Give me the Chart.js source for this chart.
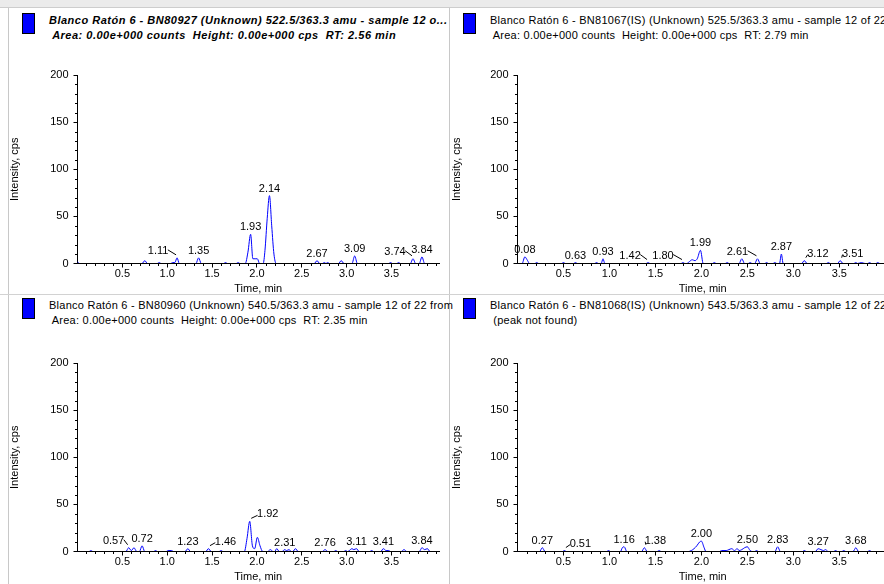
<!DOCTYPE html>
<html>
<head>
<meta charset="utf-8">
<script src="https://cdn.jsdelivr.net/npm/chart.js@4.4.1/dist/chart.umd.min.js"></script>
<style>
  html, body { margin: 0; padding: 0; background: #fff; }
  body { width: 884px; height: 584px; overflow: hidden; position: relative;
         font-family: "Liberation Sans", Arial, sans-serif; }
  .band { position: absolute; left: 0; top: 0; width: 884px; height: 7px;
          background: #ebebeb; border-bottom: 1px solid #cdcdcd; }
  .vline { position: absolute; width: 1px; background: #c8c8c8; }
  .hline { position: absolute; height: 1px; background: #d2d2d2; }
  .icon { position: absolute; width: 11px; height: 19px; background: #0000ff; border: 1px solid #000; }
  .hdr { position: absolute; font-size: 11px; line-height: 15px; white-space: pre; color: #000;
         letter-spacing: 0.25px; }
  .hdr.bi { font-weight: bold; font-style: italic; letter-spacing: 0.5px; }
  canvas { position: absolute; }
</style>
</head>
<body>
<div class="band"></div>
<div class="vline" style="left:8px;top:8px;height:576px"></div>
<div class="vline" style="left:449px;top:8px;height:576px"></div>
<div class="hline" style="left:0;top:294px;width:884px"></div>

<canvas id="c1" width="440" height="240" style="left:8px;top:56px"></canvas>
<canvas id="c2" width="447" height="240" style="left:450px;top:56px"></canvas>
<canvas id="c3" width="440" height="240" style="left:8px;top:344px"></canvas>
<canvas id="c4" width="447" height="240" style="left:450px;top:344px"></canvas>

<script>
// ---- axis ticks ----
const timeTicks = [0.5, 1.0, 1.5, 2.0, 2.5, 3.0, 3.5];
const timeTickLabels = ['0.5', '1.0', '1.5', '2.0', '2.5', '3.0', '3.5'];
const cpsTicks = [0, 50, 100, 150, 200];
const cpsTickLabels = ['0', '50', '100', '150', '200'];
const timeRange = [0, 4.03];
const cpsRange = [0, 200];

// ---- BN80927, 522.5/363.3 amu ----
const bn80927Time = [0.00, 0.02, 0.72, 0.75, 0.78, 0.89, 0.91, 0.93, 1.04, 1.06, 1.085, 1.11, 1.135,
  1.32, 1.35, 1.38, 1.63, 1.65, 1.67, 1.77, 1.79, 1.81, 1.87, 1.90, 1.93, 1.955, 1.98, 2.005, 2.03,
  2.07, 2.09, 2.115, 2.14, 2.165, 2.19, 2.215, 2.64, 2.67, 2.70, 2.73, 2.75, 2.77, 2.79, 2.81,
  2.91, 2.94, 2.97, 3.06, 3.09, 3.12, 3.47, 3.49, 3.51, 3.56, 3.58, 3.60, 3.71, 3.74, 3.77,
  3.81, 3.84, 3.87, 4.03];
const bn80927Cps = [2, 0, 0, 3, 0, 0, 1, 0, 0, 1, 1, 6, 0,
  0, 6, 0, 0, 1, 0, 0, 1, 0, 0, 12, 31, 5, 5, 5, 0,
  0, 14, 48, 72, 40, 10, 0, 0, 3, 0, 0, 1, 0, 1, 0,
  0, 3, 0, 0, 8, 0, 0, 1, 0, 0, 1, 0, 0, 5, 0,
  0, 7, 0, 0];
const bn80927Peaks = [1.11, 1.35, 1.93, 2.14, 2.67, 3.09, 3.74, 3.84];

// ---- BN81067(IS), 525.5/363.3 amu ----
const bn81067Time = [0.00, 0.05, 0.08, 0.11, 0.13, 0.19, 0.21, 0.23, 0.48, 0.50, 0.52, 0.61, 0.63, 0.65,
  0.84, 0.86, 0.88, 0.91, 0.93, 0.95, 1.40, 1.42, 1.44, 1.78, 1.80, 1.82,
  1.84, 1.87, 1.90, 1.93, 1.955, 1.99, 2.02, 2.12, 2.14, 2.16, 2.26, 2.28, 2.30,
  2.41, 2.44, 2.47, 2.51, 2.53, 2.55, 2.58, 2.61, 2.64, 2.69, 2.71, 2.73, 2.78, 2.80, 2.82,
  2.85, 2.87, 2.89, 3.09, 3.12, 3.15, 3.36, 3.38, 3.40, 3.48, 3.51, 3.54,
  3.66, 3.68, 3.70, 3.74, 3.78, 3.81, 3.83, 3.85, 3.90, 3.92, 3.94, 4.03];
const bn81067Cps = [0, 0, 7, 3, 0, 0, 1, 0, 0, 1, 0, 0, 1, 0,
  0, 1, 0, 0, 5, 0, 0, 1, 0, 0, 1, 0,
  0, 2, 4, 3, 5, 14, 0, 0, 1, 0, 0, 1, 0,
  0, 5, 0, 0, 1, 0, 0, 5, 0, 0, 1, 0, 0, 1, 0,
  0, 10, 0, 0, 3, 0, 0, 1, 0, 0, 3, 0,
  0, 1, 0, 1, 0, 0, 1, 0, 0, 1, 0, 0];
const bn81067Peaks = [0.08, 0.63, 0.93, 1.42, 1.80, 1.99, 2.61, 2.87, 3.12, 3.51];

// ---- BN80960, 540.5/363.3 amu ----
const bn80960Time = [0.00, 0.13, 0.15, 0.17, 0.54, 0.57, 0.60, 0.63, 0.66, 0.69, 0.72, 0.75,
  0.85, 0.87, 0.89, 0.99, 1.01, 1.05, 1.07, 1.20, 1.23, 1.26, 1.43, 1.46, 1.49, 1.58, 1.60, 1.62,
  1.86, 1.89, 1.92, 1.95, 1.975, 2.005, 2.035, 2.065, 2.12, 2.15, 2.18, 2.20, 2.22, 2.25,
  2.28, 2.31, 2.33, 2.36, 2.38, 2.40, 2.43, 2.46, 2.73, 2.76, 2.79, 2.86, 2.88, 2.90,
  2.97, 2.99, 3.01, 3.03, 3.06, 3.08, 3.11, 3.14, 3.26, 3.28, 3.30, 3.38, 3.41, 3.44, 3.47, 3.49,
  3.61, 3.64, 3.67, 3.81, 3.84, 3.87, 3.90, 3.93, 4.03];
const bn80960Cps = [0, 0, 1, 0, 0, 4, 1, 4, 0, 0, 6, 0,
  0, 1, 0, 0, 1, 1, 0, 0, 3, 0, 0, 3, 0, 0, 1, 0,
  0, 14, 32, 6, 3, 15, 6, 0, 0, 2, 0, 0, 3, 0,
  0, 2, 1, 2, 0, 0, 3, 0, 0, 2, 0, 0, 1, 0,
  0, 1, 0, 1, 3, 2, 3, 0, 0, 1, 0, 0, 3, 1, 1, 0,
  0, 2, 0, 0, 4, 2, 3, 0, 0];
const bn80960Peaks = [0.57, 0.72, 1.23, 1.46, 1.92, 2.31, 2.76, 3.11, 3.41, 3.84];

// ---- BN81068(IS), 543.5/363.3 amu ----
const bn81068Time = [0.00, 0.24, 0.27, 0.30, 0.49, 0.51, 0.53, 0.97, 0.99, 1.01, 1.12, 1.14, 1.16, 1.19,
  1.35, 1.38, 1.41, 1.52, 1.54, 1.56, 1.86, 1.89, 1.92, 1.95, 1.98, 2.00, 2.03, 2.05,
  2.20, 2.22, 2.27, 2.30, 2.33, 2.36, 2.39, 2.41, 2.44, 2.47, 2.50, 2.53, 2.55, 2.58, 2.60, 2.62,
  2.80, 2.83, 2.86, 3.10, 3.12, 3.14, 3.24, 3.27, 3.30, 3.33, 3.35, 3.38,
  3.44, 3.46, 3.48, 3.53, 3.55, 3.57, 3.65, 3.68, 3.71, 3.81, 3.83, 3.85, 4.03];
const bn81068Cps = [0, 0, 4, 0, 0, 1, 0, 0, 1, 0, 0, 4, 5, 0,
  0, 4, 0, 0, 1, 0, 0, 1, 3, 6, 10, 11, 4, 0,
  0, 1, 1, 2, 3, 1, 3, 1, 2, 4, 5, 1, 0, 0, 1, 0,
  0, 5, 0, 0, 1, 0, 0, 3, 2, 1, 2, 0,
  0, 1, 0, 0, 1, 0, 0, 4, 0, 0, 1, 0, 0];
const bn81068Peaks = [0.27, 0.51, 1.16, 1.38, 2.00, 2.50, 2.83, 3.27, 3.68];

// ---- pane headers ----
const headers = [
  { left: 22, top: 13, cls: 'bi', lines: ['Blanco Ratón 6 - BN80927 (Unknown) 522.5/363.3 amu - sample 12 o...',
    ' Area: 0.00e+000 counts  Height: 0.00e+000 cps  RT: 2.56 min'] },
  { left: 463, top: 13, cls: '', lines: ['Blanco Ratón 6 - BN81067(IS) (Unknown) 525.5/363.3 amu - sample 12 of 22',
    ' Area: 0.00e+000 counts  Height: 0.00e+000 cps  RT: 2.79 min'] },
  { left: 22, top: 298, cls: '', lines: ['Blanco Ratón 6 - BN80960 (Unknown) 540.5/363.3 amu - sample 12 of 22 from',
    ' Area: 0.00e+000 counts  Height: 0.00e+000 cps  RT: 2.35 min'] },
  { left: 463, top: 298, cls: '', lines: ['Blanco Ratón 6 - BN81068(IS) (Unknown) 543.5/363.3 amu - sample 12 of 22',
    ' (peak not found)'] }
];
headers.forEach(h => {
  const icon = document.createElement('div');
  icon.className = 'icon';
  icon.style.left = h.left + 'px';
  icon.style.top = h.top + 'px';
  document.body.appendChild(icon);
  const txt = document.createElement('div');
  txt.className = 'hdr ' + h.cls;
  txt.style.left = (h.left + 27) + 'px';
  txt.style.top = h.top + 'px';
  txt.textContent = h.lines.join('\n');
  document.body.appendChild(txt);
});

// ---- drawing helpers ----
const FONT_FAMILY = '"Liberation Sans", Arial, sans-serif';
const tickFont = { family: FONT_FAMILY, size: 11 };

// redraws the time baseline over the trace and adds the short minor ticks
const axisOverlay = {
  id: 'axisOverlay',
  afterDatasetsDraw(chart) {
    const { ctx, chartArea: a, scales: { x, y } } = chart;
    ctx.save();
    ctx.strokeStyle = '#000';
    ctx.lineWidth = 1;
    ctx.beginPath();
    const by = Math.round(a.bottom - 0.5) + 0.5;
    const lx = Math.round(a.left - 0.5) + 0.5;
    ctx.moveTo(lx, by);
    ctx.lineTo(a.right, by);
    for (let k = 1; k < 20; k++) {
      if (k % 5 === 0) continue;
      const py = Math.round(y.getPixelForValue(k * 10)) + 0.5;
      ctx.moveTo(lx - 2.5, py);
      ctx.lineTo(lx, py);
    }
    for (let k = 1; k <= 40; k++) {
      if (k % 5 === 0 && k <= 35) continue;
      const px = Math.round(x.getPixelForValue(k / 10)) + 0.5;
      if (px > a.right) break;
      ctx.moveTo(px, by);
      ctx.lineTo(px, by + 2.5);
    }
    ctx.stroke();
    ctx.restore();
  }
};

// retention-time labels above each picked peak, with a short leader when moved aside
const peakLabels = {
  id: 'peakLabels',
  afterDatasetsDraw(chart, args, opts) {
    const { ctx, scales: { x, y } } = chart;
    const pts = chart.data.datasets[0].data;
    ctx.save();
    ctx.font = '11px ' + FONT_FAMILY;
    ctx.fillStyle = '#000';
    ctx.strokeStyle = '#000';
    ctx.lineWidth = 1;
    ctx.textAlign = 'center';
    ctx.textBaseline = 'middle';
    (opts.times || []).forEach(t => {
      const text = t.toFixed(2);
      const p = pts.find(d => d.x === t);
      const ax = x.getPixelForValue(t);
      const ay = y.getPixelForValue(p ? p.y : 0);
      const dx = (opts.aside && opts.aside[text]) || 0;
      const cx = ax + dx;
      const cy = ay - 7;
      const w = ctx.measureText(text).width;
      ctx.fillText(text, cx, cy);
      if (dx) {
        ctx.beginPath();
        if (dx < 0) {
          ctx.moveTo(cx + w / 2 - 0.5, cy - 1);
          ctx.lineTo(ax - 1, ay - 3);
        } else {
          ctx.moveTo(ax + 1.5, ay - 3);
          ctx.lineTo(cx - w / 2 + 0.5, cy + 1);
        }
        ctx.stroke();
      }
    });
    ctx.restore();
  }
};

function makePane(id, time, cps, peaks, aside, yWidth) {
  const points = time.map((t, i) => ({ x: t, y: cps[i] }));
  return new Chart(document.getElementById(id), {
    type: 'line',
    data: {
      datasets: [{
        data: points,
        borderColor: '#0000ff',
        borderWidth: 1,
        pointRadius: 0,
        fill: false,
        cubicInterpolationMode: 'monotone'
      }]
    },
    options: {
      responsive: false,
      animation: false,
      events: [],
      layout: { padding: { left: 0, right: 9, top: 19, bottom: 0 } },
      plugins: {
        legend: { display: false },
        tooltip: { enabled: false },
        peakLabels: { times: peaks, aside: aside }
      },
      scales: {
        x: {
          type: 'linear',
          min: timeRange[0],
          max: timeRange[1],
          afterBuildTicks: s => { s.ticks = timeTicks.map(v => ({ value: v })); },
          afterFit: s => { s.height = 32.5; },
          ticks: {
            autoSkip: false,
            maxRotation: 0,
            padding: 0,
            color: '#000',
            font: tickFont,
            callback: v => timeTickLabels[timeTicks.indexOf(v)]
          },
          grid: { drawOnChartArea: false, drawTicks: true, tickLength: 4, color: '#000' },
          border: { display: true, color: '#000', width: 1 },
          title: { display: true, text: 'Time, min', color: '#000', font: tickFont, padding: { top: 0, bottom: 0 } }
        },
        y: {
          type: 'linear',
          min: cpsRange[0],
          max: cpsRange[1],
          afterBuildTicks: s => { s.ticks = cpsTicks.map(v => ({ value: v })); },
          afterFit: s => { s.width = yWidth; },
          ticks: {
            padding: 5,
            color: '#000',
            font: tickFont,
            callback: v => cpsTickLabels[cpsTicks.indexOf(v)]
          },
          grid: { drawOnChartArea: false, drawTicks: true, tickLength: 4, color: '#000' },
          border: { display: true, color: '#000', width: 1 },
          title: { display: true, text: 'Intensity, cps', color: '#000', font: tickFont, padding: { top: 0, bottom: 0 } }
        }
      }
    },
    plugins: [axisOverlay, peakLabels]
  });
}

makePane('c1', bn80927Time, bn80927Cps, bn80927Peaks, { '1.11': -19, '3.74': -18 }, 69.5);
makePane('c2', bn81067Time, bn81067Cps, bn81067Peaks,
  { '1.42': -18, '1.80': -20, '2.61': -20, '3.12': 13.5, '3.51': 12.5 }, 67.5);
makePane('c3', bn80960Time, bn80960Cps, bn80960Peaks, { '0.57': -15, '1.46': 17, '1.92': 18 }, 69.5);
makePane('c4', bn81068Time, bn81068Cps, bn81068Peaks, { '0.51': 16, '1.38': 11 }, 67.5);
</script>
</body>
</html>
